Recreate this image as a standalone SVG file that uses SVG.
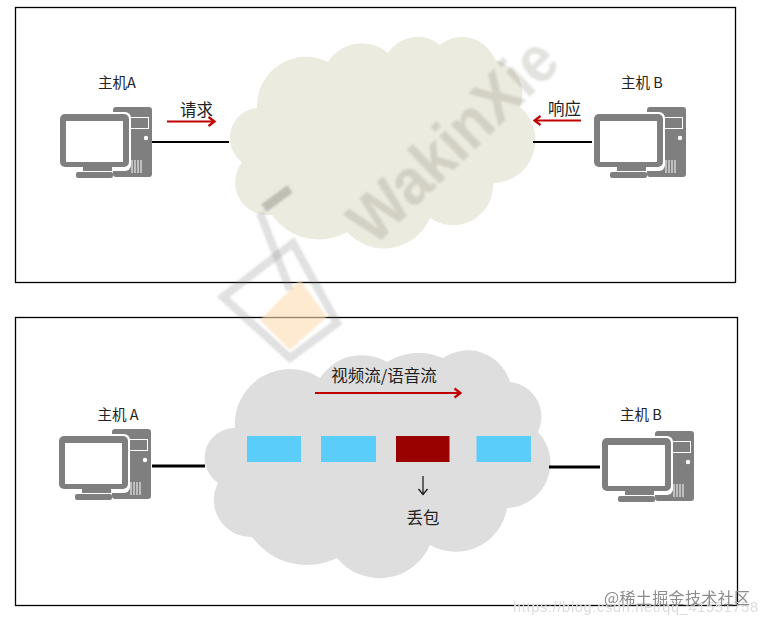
<svg xmlns="http://www.w3.org/2000/svg" width="767" height="627" viewBox="0 0 767 627">
<style>
.frame{fill:none;stroke:#000;stroke-width:1.3}
.t{font-family:"Noto Sans CJK SC","Liberation Sans",sans-serif;fill:#222;font-size:14.5px;text-anchor:middle}
.link{stroke:#000;fill:none}
.flow{stroke:#c00000;stroke-width:2.2;fill:none;marker-end:url(#ah)}
.pkt{fill:#5bcdfa}
.wm{font-family:"Liberation Sans",sans-serif;font-size:65px;font-weight:700;fill:#5a5a50;fill-opacity:.18}
</style>
<defs>
<marker id="ah" markerUnits="userSpaceOnUse" markerWidth="12" markerHeight="12" refX="9.5" refY="6" orient="auto"><path d="M4 1.5L10 6L4 10.5" fill="none" stroke="#c00000" stroke-width="2.2"/></marker>
<marker id="ak" markerUnits="userSpaceOnUse" markerWidth="14" markerHeight="14" refX="7" refY="12" orient="0"><path d="M2.5 7L7 12.5L11.5 7" fill="none" stroke="#111" stroke-width="1.2"/></marker>
<filter id="soft" x="-5%" y="-5%" width="110%" height="110%"><feGaussianBlur stdDeviation="1"/></filter>
<filter id="soft2" x="-5%" y="-20%" width="110%" height="140%"><feGaussianBlur stdDeviation="0.5"/></filter>
<symbol id="pc" overflow="visible">
<rect x="113" y="107" width="39" height="70" rx="3" fill="#7f7f7f"/>
<rect x="130.500" y="117.500" width="18" height="11" fill="#7f7f7f" stroke="#fff" stroke-width="1"/>
<circle cx="146" cy="138" r="2.200" fill="#fff"/>
<path d="M132 160v13M135 160v13M138 160v13M141 160v13" stroke="#fff" stroke-width="1"/>
<rect x="58" y="112" width="73" height="59" rx="6" fill="#fff"/>
<rect x="60" y="114" width="69" height="53" rx="5" fill="#7f7f7f"/>
<rect x="66" y="121" width="57" height="41" fill="#fff"/>
<rect x="83" y="167" width="29" height="4" fill="#7f7f7f"/>
<rect x="76" y="172" width="37" height="6" rx="2" fill="#7f7f7f"/>
</symbol>
</defs>
<rect width="767" height="627" fill="#fff"/>
<g id="frames">
<rect class="frame" x="15.500" y="7.500" width="720" height="275"/>
<rect class="frame" x="15.500" y="317.500" width="722" height="288"/>
</g>
<g id="cloud-top">
<path fill="#ecebe0" d="M242 162A30 30 0 0 1 257 108A49 49 0 0 1 328 62A40 40 0 0 1 388 53A35 35 0 0 1 440 45A35 35 0 0 1 495 60A35 35 0 0 1 520 107A43 43 0 0 1 493 183A40 40 0 0 1 430 218A50 50 0 0 1 347 232A57 57 0 0 1 272 215A33 33 0 0 1 242 162Z"/>
</g>
<g id="cloud-bottom">
<path fill="#dedede" d="M218 483A30 30 0 0 1 235 428A55 55 0 0 1 320 378A50 50 0 0 1 387 362A60 60 0 0 1 443 358A44 44 0 0 1 510 382A35 35 0 0 1 538 432A45 45 0 0 1 507 508A52 52 0 0 1 430 545A55 55 0 0 1 337 558A68 68 0 0 1 252 537A37 37 0 0 1 218 483Z"/>
</g>
<g id="connectors">
<path class="link" stroke-width="2" d="M152 142H229M533 142H594"/>
<path class="link" stroke-width="3" d="M152 466H205M549 467H602"/>
<path class="flow" d="M167 121.500H214"/>
<path class="flow" d="M581 120.500H535"/>
<path class="flow" d="M315 393H460"/>
<path d="M423 476V494" stroke="#111" stroke-width="1.200" fill="none" marker-end="url(#ak)"/>
</g>
<g id="host-a-top"><use href="#pc"/><text class="t" x="117" y="88">主机A</text></g>
<g id="host-b-top"><use href="#pc" x="534"/><text class="t" x="642" y="88">主机 B</text></g>
<g id="host-a-bottom"><use href="#pc" x="-1" y="322"/><text class="t" x="118" y="420">主机 A</text></g>
<g id="host-b-bottom"><use href="#pc" x="542" y="324"/><text class="t" x="641" y="420">主机 B</text></g>
<g id="labels">
<text class="t" x="196.500" y="116" style="font-size:16.500px">请求</text>
<text class="t" x="564.500" y="115" style="font-size:16.500px">响应</text>
<text class="t" x="384" y="381.500" style="font-size:16.500px">视频流/语音流</text>
<text class="t" x="423" y="524" style="font-size:16.500px">丢包</text>
</g>
<g id="packets">
<rect class="pkt" x="247" y="436" width="54" height="26"/>
<rect class="pkt" x="321" y="436" width="55" height="26"/>
<rect x="396" y="436" width="53.500" height="26" fill="#990000"/>
<rect class="pkt" x="476.500" y="436" width="54.500" height="26"/>
</g>
<g id="watermark" filter="url(#soft)">
<text class="wm" transform="translate(374 247) rotate(-44)" textLength="262" lengthAdjust="spacingAndGlyphs">WakinXie</text>
<path d="M260 320L300 280L327 317L290 350Z" fill="#fbdcb0" fill-opacity=".6"/>
<path d="M223 297L293 243L337 323L290 358Z" fill="none" stroke="#777" stroke-opacity=".22" stroke-width="8"/>
<path d="M260 213L290 290" fill="none" stroke="#777" stroke-opacity=".22" stroke-width="8"/>
<path d="M264 208L290 189" fill="none" stroke="#5a5a50" stroke-opacity=".3" stroke-width="9"/>
</g>
<g id="credit">
<text x="513" y="612" font-family="Liberation Sans,sans-serif" font-size="14.500" fill="#dcdcdc" textLength="245" filter="url(#soft2)">https://blog.csdn.net/qq_41551758</text>
<text x="604" y="604" font-family="Noto Sans CJK SC,sans-serif" font-size="16" fill="#8c8c8c" textLength="146" filter="url(#soft2)">@稀土掘金技术社区</text>
</g>
</svg>
